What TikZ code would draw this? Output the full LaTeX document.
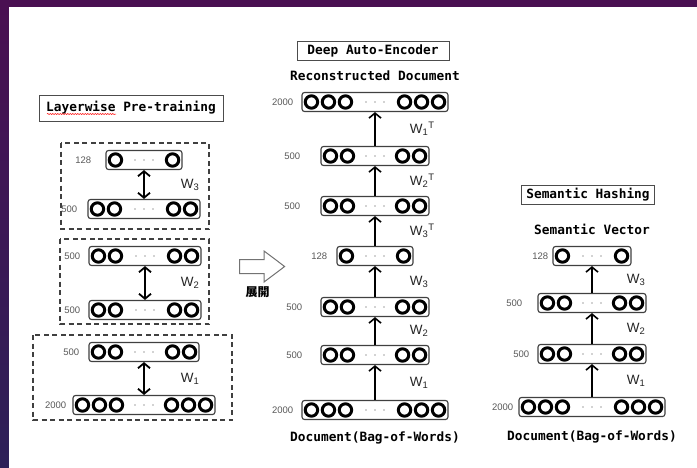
\documentclass[tikz,border=0pt]{standalone}
\usepackage{fontspec}
\setsansfont{Liberation Sans}
\setmonofont{DejaVu Sans Mono}
\newfontfamily\cjkfont{Noto Sans CJK JP}
\usetikzlibrary{arrows.meta, positioning, calc, shapes.arrows, decorations.pathmorphing}

\definecolor{framepurple}{RGB}{74,16,82}
\definecolor{framebluish}{RGB}{45,32,88}

\tikzset{
  layerbox/.style={draw=black!75, line width=1.1pt, rounded corners=2.5pt, minimum height=19pt, inner sep=0pt},
  neuron/.style={draw=black, line width=3pt},
  sizelabel/.style={font=\fontsize{9.5}{10}\sffamily, text=black!65, inner sep=1pt},
  wlabel/.style={font=\fontsize{13.5}{14}\sffamily, text=black!85, inner sep=1pt},
  titlebox/.style={draw=black!70, line width=1pt, font=\fontsize{12.8}{14}\ttfamily\bfseries, text height=9.5pt, text depth=2.5pt},
  captiontext/.style={font=\fontsize{12.8}{14}\ttfamily\bfseries},
  groupbox/.style={draw=black!75, line width=1.3pt, dash pattern=on 5pt off 3.5pt},
  uparrow/.style={-{Straight Barb[length=5pt,width=12pt]}, line width=1.6pt},
  pairarrow/.style={{Straight Barb[length=5pt,width=12pt]}-{Straight Barb[length=5pt,width=12pt]}, line width=1.8pt},
}

% one layer: name, x, y, units per side, width, size, label gap
\newcommand{\layer}[7]{%
  \node (#1) [layerbox, minimum width=#5pt] at (#2,#3) {};
  \foreach \k in {1,...,#4} {
    \draw[neuron] ($(#1.west)+({10+17*(\k-1)},0)$) circle (6.2pt);
    \draw[neuron] ($(#1.east)-({10+17*(\k-1)},0)$) circle (6.2pt);
  }
  \foreach \j in {-1,0,1}
    \fill[black!35] ($(#1.center)+({9*\j},0)$) circle (0.9pt);
  \node (#1n) [sizelabel, left=#7pt of #1] {#6};
}

\begin{document}
\begin{tikzpicture}[x=1pt, y=-1pt]
    \useasboundingbox (0,0) rectangle (697,467);
    % frame
    \shade[top color=framepurple, bottom color=framebluish] (0,0) rectangle (697,467);
    \fill[white] (9,7) rectangle (705,475);

    % titles
    \node (pretitle) [titlebox, minimum width=184pt, minimum height=26pt] at (131,108) {Layerwise Pre-training};
    \draw[red, line width=0.5pt, decorate, decoration={snake, amplitude=0.6pt, segment length=2.5pt}]
        ($(pretitle.center)+(-84,6)$) -- ++(69,0);
    \node (aetitle) [titlebox, minimum width=152pt] at (373,51) {Deep Auto-Encoder};
    \node (shtitle) [titlebox, minimum width=133pt] at (588,195) {Semantic Hashing};

    % pre-training stacks
    \draw[groupbox] (61,143) rectangle (209,229);
    \draw[groupbox] (60,239) rectangle (209,324);
    \draw[groupbox] (33,335) rectangle (232,420);
    \layer{pre128}{144}{160}{1}{76}{128}{13}
    \layer{pre500c}{144}{209}{2}{112}{500}{9}
    \layer{pre500b}{145}{256}{2}{112}{500}{7}
    \layer{pre500a}{145}{310}{2}{112}{500}{7}
    \layer{pre500d}{144}{352}{2}{110}{500}{8}
    \layer{pre2000}{144}{405}{3}{142}{2000}{5}
    \draw[pairarrow] (pre128.south) -- (pre500c.north) node[wlabel, midway, right=35pt] (prew3) {W\textsubscript{3}};
    \draw[pairarrow] (pre500b.south) -- (pre500a.north) node[wlabel, midway, right=34pt] (prew2) {W\textsubscript{2}};
    \draw[pairarrow] (pre500d.south) -- (pre2000.north) node[wlabel, midway, right=35pt] (prew1) {W\textsubscript{1}};

    % unfolding
    \node (unfold) [single arrow, draw=black!55, line width=1pt, minimum height=45pt, inner xsep=0pt, inner ysep=6.5pt,
        single arrow head extend=8.5pt, single arrow tip angle=74] at (257.5,266.5) {};
    \node (unfoldtxt) [below=9pt of unfold, font=\fontsize{12}{13}\cjkfont\bfseries] {展開};

    % deep auto-encoder
    \layer{dec2000}{375}{102}{3}{146}{2000}{7}
    \layer{dec500b}{375}{156}{2}{108}{500}{19}
    \layer{dec500a}{375}{206}{2}{108}{500}{19}
    \layer{code128}{375}{256}{1}{76}{128}{8}
    \layer{enc500b}{375}{307}{2}{108}{500}{17}
    \layer{enc500a}{375}{355}{2}{108}{500}{17}
    \layer{enc2000}{375}{410}{3}{146}{2000}{7}
    \node (recon) [captiontext, above=8pt of dec2000] {Reconstructed Document};
    \node (aedoc) [captiontext, below=8pt of enc2000] {Document(Bag-of-Words)};
    \draw[uparrow] (enc2000.north) -- (enc500a.south) node[wlabel, midway, right=33pt] (encw1) {W\textsubscript{1}};
    \draw[uparrow] (enc500a.north) -- (enc500b.south) node[wlabel, midway, right=33pt] (encw2) {W\textsubscript{2}};
    \draw[uparrow] (enc500b.north) -- (code128.south) node[wlabel, midway, right=33pt] (encw3) {W\textsubscript{3}};
    \draw[uparrow] (code128.north) -- (dec500a.south) node[wlabel, midway, right=33pt] (decw3) {W\textsubscript{3}\textsuperscript{T}};
    \draw[uparrow] (dec500a.north) -- (dec500b.south) node[wlabel, midway, right=33pt] (decw2) {W\textsubscript{2}\textsuperscript{T}};
    \draw[uparrow] (dec500b.north) -- (dec2000.south) node[wlabel, midway, right=33pt] (decw1) {W\textsubscript{1}\textsuperscript{T}};

    % semantic hashing
    \layer{hash128}{592}{256}{1}{78}{128}{3}
    \layer{hash500b}{592}{303}{2}{108}{500}{14}
    \layer{hash500a}{592}{354}{2}{108}{500}{7}
    \layer{hash2000}{592}{407}{3}{146}{2000}{4}
    \node (semvec) [captiontext, above=8pt of hash128] {Semantic Vector};
    \node (shdoc) [captiontext, below=10pt of hash2000] {Document(Bag-of-Words)};
    \draw[uparrow] (hash2000.north) -- (hash500a.south) node[wlabel, midway, right=33pt] (hashw1) {W\textsubscript{1}};
    \draw[uparrow] (hash500a.north) -- (hash500b.south) node[wlabel, midway, right=33pt] (hashw2) {W\textsubscript{2}};
    \draw[uparrow] (hash500b.north) -- (hash128.south) node[wlabel, midway, right=33pt] (hashw3) {W\textsubscript{3}};
\end{tikzpicture}
\end{document}
